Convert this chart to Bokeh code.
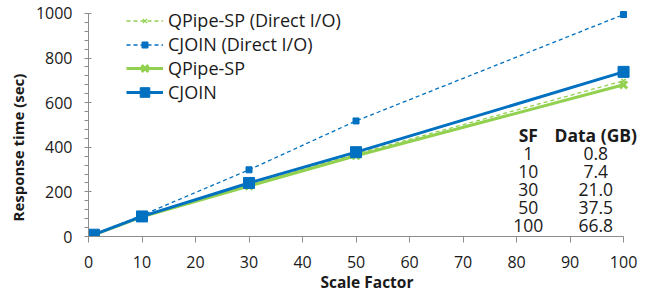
from bokeh.plotting import figure
from bokeh.models import (Range1d, FixedTicker, Legend, LegendItem, Title,
                          LabelSet, ColumnDataSource)
from bokeh.core.properties import value
from bokeh.embed import file_html
from bokeh.resources import INLINE

# ---- data ----
sf = [1, 10, 30, 50, 100]
qpipe_dio = [8, 92, 232, 370, 698]
cjoin_dio = [9, 95, 299, 518, 995]
qpipe = [7, 88, 226, 362, 680]
cjoin = [8, 90, 240, 378, 738]

table_sf = ["1", "10", "30", "50", "100"]
table_gb = ["0.8", "7.4", "21.0", "37.5", "66.8"]

x_ticks = list(range(0, 101, 10))
y_ticks = list(range(0, 1001, 200))
y_minor = [v for v in range(0, 1001, 40) if v % 200 != 0]

BLUE = "#0070C0"
GREEN = "#92D050"
FONT = "Open Sans"
TXT = "#1a1a1a"
AX = "#8c8c8c"

# frame extends a little past the axes (axes are bounded to 0-100 / 0-1000)
p = figure(width=650, height=295, output_backend="svg", toolbar_location=None,
           x_range=Range1d(0, 104.1), y_range=Range1d(0, 1049),
           min_border_left=88, min_border_right=5, min_border_top=2, min_border_bottom=58)
p.outline_line_color = None
p.xgrid.visible = False
p.ygrid.visible = False
p.background_fill_color = "white"
p.border_fill_color = "white"

# axes
p.xaxis.bounds = (0, 100)
p.yaxis.bounds = (0, 1000)
p.xaxis.ticker = FixedTicker(ticks=x_ticks)
p.yaxis.ticker = FixedTicker(ticks=y_ticks, minor_ticks=y_minor)
for ax in (p.xaxis, p.yaxis):
    ax.axis_line_color = AX
    ax.major_tick_line_color = AX
    ax.minor_tick_line_color = AX
    ax.major_label_text_font = FONT
    ax.major_label_text_font_size = "16px"
    ax.major_label_text_color = TXT
    ax.axis_label_text_font = FONT
    ax.axis_label_text_font_style = "bold"
    ax.axis_label_text_font_size = "15.5px"
    ax.axis_label_text_color = TXT
p.xaxis.major_tick_in = 0
p.xaxis.major_tick_out = 6
p.xaxis.minor_tick_out = 0
p.xaxis.minor_tick_in = 0
p.xaxis.major_label_standoff = 13
p.xaxis.axis_label = "Scale Factor"
p.xaxis.axis_label_standoff = 0
p.yaxis.major_tick_in = 3
p.yaxis.major_tick_out = 4
p.yaxis.minor_tick_in = 0
p.yaxis.minor_tick_out = 4
p.yaxis.major_label_standoff = 12

# lines
r_qd = p.line(sf, qpipe_dio, line_color=GREEN, line_width=1.3, line_dash="4 3")
m_qd = p.scatter(sf, qpipe_dio, marker="x", size=6, line_color=GREEN, line_width=1.3)
r_cd = p.line(sf, cjoin_dio, line_color=BLUE, line_width=1.3, line_dash="4 3")
m_cd = p.scatter(sf, cjoin_dio, marker="square", size=6, fill_color=BLUE, line_color=BLUE)
r_q = p.line(sf, qpipe, line_color=GREEN, line_width=3)
m_q = p.scatter(sf, qpipe, marker="x", size=10, line_color=GREEN, line_width=3)
r_c = p.line(sf, cjoin, line_color=BLUE, line_width=3)
m_c = p.scatter(sf, cjoin, marker="square", size=11, fill_color=BLUE, line_color=BLUE)

common = dict(padding=0, margin=0, glyph_width=37, label_standoff=5,
              label_text_font=FONT, label_text_font_size="18px", label_text_color=TXT,
              border_line_color=None, background_fill_alpha=0)
legend_a = Legend(items=[
    LegendItem(label="QPipe-SP (Direct I/O)", renderers=[r_qd, m_qd]),
    LegendItem(label="CJOIN (Direct I/O)", renderers=[r_cd, m_cd]),
], location=(38, 180), spacing=0, glyph_height=15, label_height=15, **common)
legend_b = Legend(items=[
    LegendItem(label="QPipe-SP", renderers=[r_q, m_q]),
    LegendItem(label="CJOIN", renderers=[r_c, m_c]),
], location=(38, 132), spacing=0, glyph_height=24, label_height=24, **common)
p.add_layout(legend_a, "center")
p.add_layout(legend_b, "center")

# y axis label (placed as a side title so it can be shifted along the axis)
p.add_layout(Title(text="Response time (sec)", align="left", offset=15,
                   text_font=FONT, text_font_style="bold", text_font_size="15px",
                   text_color=TXT), "left")

# table
col_sf_x = 82.2
col_gb_x = 94.8
top_y = 455
step = 81.0
rows_y = [top_y - step * (i + 1) for i in range(len(table_sf))]
head = ColumnDataSource(dict(x=[col_sf_x, col_gb_x], y=[top_y, top_y], t=["SF", "Data (GB)"]))
body = ColumnDataSource(dict(x=[col_sf_x] * len(table_sf) + [col_gb_x] * len(table_gb),
                             y=rows_y + rows_y, t=table_sf + table_gb))
p.add_layout(LabelSet(x="x", y="y", text="t", source=head, text_font=value(FONT),
                      text_font_style="bold", text_font_size="17.5px", text_align="center",
                      text_baseline="middle", text_color=TXT))
p.add_layout(LabelSet(x="x", y="y", text="t", source=body, text_font=value(FONT),
                      text_font_size="17.5px", text_align="center",
                      text_baseline="middle", text_color=TXT))

open("out.html", "w").write(file_html(p, INLINE))
